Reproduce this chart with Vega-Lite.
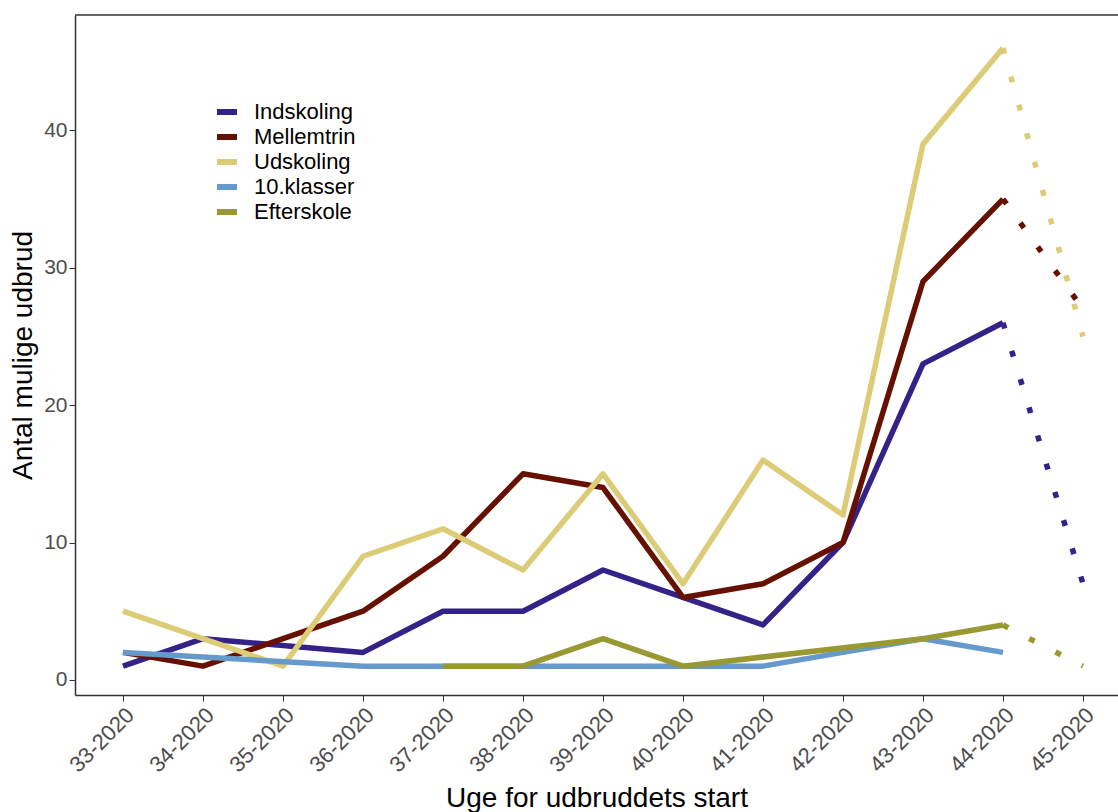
{
  "$schema": "https://vega.github.io/schema/vega-lite/v6.json",
  "autosize": {"type": "none"},
  "width": 1043,
  "height": 680,
  "padding": {"left": 75, "top": 15, "right": 0, "bottom": 117},
  "background": "white",
  "config": {
    "font": "Liberation Sans",
    "view": {"stroke": null},
    "axis": {"grid": false}
  },
  "datasets": {
    "solid": [
      {"uge": 33, "gruppe": "Indskoling", "antal": 1},
      {"uge": 34, "gruppe": "Indskoling", "antal": 3},
      {"uge": 36, "gruppe": "Indskoling", "antal": 2},
      {"uge": 37, "gruppe": "Indskoling", "antal": 5},
      {"uge": 38, "gruppe": "Indskoling", "antal": 5},
      {"uge": 39, "gruppe": "Indskoling", "antal": 8},
      {"uge": 40, "gruppe": "Indskoling", "antal": 6},
      {"uge": 41, "gruppe": "Indskoling", "antal": 4},
      {"uge": 42, "gruppe": "Indskoling", "antal": 10},
      {"uge": 43, "gruppe": "Indskoling", "antal": 23},
      {"uge": 44, "gruppe": "Indskoling", "antal": 26},
      {"uge": 33, "gruppe": "Mellemtrin", "antal": 2},
      {"uge": 34, "gruppe": "Mellemtrin", "antal": 1},
      {"uge": 35, "gruppe": "Mellemtrin", "antal": 3},
      {"uge": 36, "gruppe": "Mellemtrin", "antal": 5},
      {"uge": 37, "gruppe": "Mellemtrin", "antal": 9},
      {"uge": 38, "gruppe": "Mellemtrin", "antal": 15},
      {"uge": 39, "gruppe": "Mellemtrin", "antal": 14},
      {"uge": 40, "gruppe": "Mellemtrin", "antal": 6},
      {"uge": 41, "gruppe": "Mellemtrin", "antal": 7},
      {"uge": 42, "gruppe": "Mellemtrin", "antal": 10},
      {"uge": 43, "gruppe": "Mellemtrin", "antal": 29},
      {"uge": 44, "gruppe": "Mellemtrin", "antal": 35},
      {"uge": 33, "gruppe": "Udskoling", "antal": 5},
      {"uge": 34, "gruppe": "Udskoling", "antal": 3},
      {"uge": 35, "gruppe": "Udskoling", "antal": 1},
      {"uge": 36, "gruppe": "Udskoling", "antal": 9},
      {"uge": 37, "gruppe": "Udskoling", "antal": 11},
      {"uge": 38, "gruppe": "Udskoling", "antal": 8},
      {"uge": 39, "gruppe": "Udskoling", "antal": 15},
      {"uge": 40, "gruppe": "Udskoling", "antal": 7},
      {"uge": 41, "gruppe": "Udskoling", "antal": 16},
      {"uge": 42, "gruppe": "Udskoling", "antal": 12},
      {"uge": 43, "gruppe": "Udskoling", "antal": 39},
      {"uge": 44, "gruppe": "Udskoling", "antal": 46},
      {"uge": 33, "gruppe": "10.klasser", "antal": 2},
      {"uge": 36, "gruppe": "10.klasser", "antal": 1},
      {"uge": 37, "gruppe": "10.klasser", "antal": 1},
      {"uge": 38, "gruppe": "10.klasser", "antal": 1},
      {"uge": 39, "gruppe": "10.klasser", "antal": 1},
      {"uge": 40, "gruppe": "10.klasser", "antal": 1},
      {"uge": 41, "gruppe": "10.klasser", "antal": 1},
      {"uge": 42, "gruppe": "10.klasser", "antal": 2},
      {"uge": 43, "gruppe": "10.klasser", "antal": 3},
      {"uge": 44, "gruppe": "10.klasser", "antal": 2},
      {"uge": 37, "gruppe": "Efterskole", "antal": 1},
      {"uge": 38, "gruppe": "Efterskole", "antal": 1},
      {"uge": 39, "gruppe": "Efterskole", "antal": 3},
      {"uge": 40, "gruppe": "Efterskole", "antal": 1},
      {"uge": 43, "gruppe": "Efterskole", "antal": 3},
      {"uge": 44, "gruppe": "Efterskole", "antal": 4}
    ],
    "dotted": [
      {"uge": 44, "gruppe": "Indskoling", "antal": 26},
      {"uge": 45, "gruppe": "Indskoling", "antal": 7},
      {"uge": 44, "gruppe": "Mellemtrin", "antal": 35},
      {"uge": 45, "gruppe": "Mellemtrin", "antal": 27},
      {"uge": 44, "gruppe": "Udskoling", "antal": 46},
      {"uge": 45, "gruppe": "Udskoling", "antal": 25},
      {"uge": 44, "gruppe": "Efterskole", "antal": 4},
      {"uge": 45, "gruppe": "Efterskole", "antal": 1}
    ],
    "top": [{"kant": 48.4}]
  },
  "layer": [
    {
      "data": {"name": "top"},
      "mark": {"type": "rule", "color": "#333333", "strokeWidth": 1.5},
      "encoding": {
        "y": {"field": "kant", "type": "quantitative"}
      }
    },
    {
      "data": {"name": "solid"},
      "mark": {"type": "line", "strokeWidth": 5.5, "strokeJoin": "round", "strokeCap": "butt"},
      "encoding": {
        "x": {
          "field": "uge", "type": "quantitative",
          "scale": {"domain": [32.4, 45.4375], "nice": false, "zero": false},
          "axis": {
            "values": [33, 34, 35, 36, 37, 38, 39, 40, 41, 42, 43, 44, 45],
            "labelExpr": "datum.value + '-2020'",
            "labelAngle": -45, "labelAlign": "right", "labelBaseline": "top",
            "labelFontSize": 22, "labelColor": "#4D4D4D", "labelPadding": 3,
            "tickSize": 6, "tickColor": "#333333", "domainColor": "#333333", "domainWidth": 1.5,
            "title": "Uge for udbruddets start", "titleFontSize": 28, "titleFontWeight": "normal",
            "titleColor": "#000000", "titlePadding": 9, "labelOverlap": false, "labelFlush": false
          }
        },
        "y": {
          "field": "antal", "type": "quantitative",
          "scale": {"domain": [-1.1, 48.4], "nice": false, "zero": false},
          "axis": {
            "values": [0, 10, 20, 30, 40],
            "labelFontSize": 21, "labelColor": "#4D4D4D", "labelPadding": 2,
            "tickSize": 6, "tickColor": "#333333", "domainColor": "#333333", "domainWidth": 1.5,
            "title": "Antal mulige udbrud", "titleFontSize": 28, "titleFontWeight": "normal",
            "titleColor": "#000000", "titlePadding": 6
          }
        },
        "color": {
          "field": "gruppe", "type": "nominal",
          "scale": {
            "domain": ["Indskoling", "Mellemtrin", "Udskoling", "10.klasser", "Efterskole"],
            "range": ["#332288", "#661100", "#DDCC77", "#6699CC", "#999933"]
          },
          "legend": {
            "title": null, "orient": "none", "legendX": 139, "legendY": 84,
            "symbolType": "stroke", "symbolSize": 400, "symbolStrokeWidth": 6,
            "symbolDash": [1, 0],
            "labelFontSize": 22, "labelColor": "#000000", "labelOffset": 14,
            "rowPadding": 0, "padding": 0
          }
        }
      }
    },
    {
      "data": {"name": "dotted"},
      "mark": {"type": "line", "strokeWidth": 5.5, "strokeCap": "butt", "strokeDash": [6, 23.5]},
      "encoding": {
        "x": {"field": "uge", "type": "quantitative"},
        "y": {"field": "antal", "type": "quantitative"},
        "color": {"field": "gruppe", "type": "nominal"}
      }
    }
  ]
}
